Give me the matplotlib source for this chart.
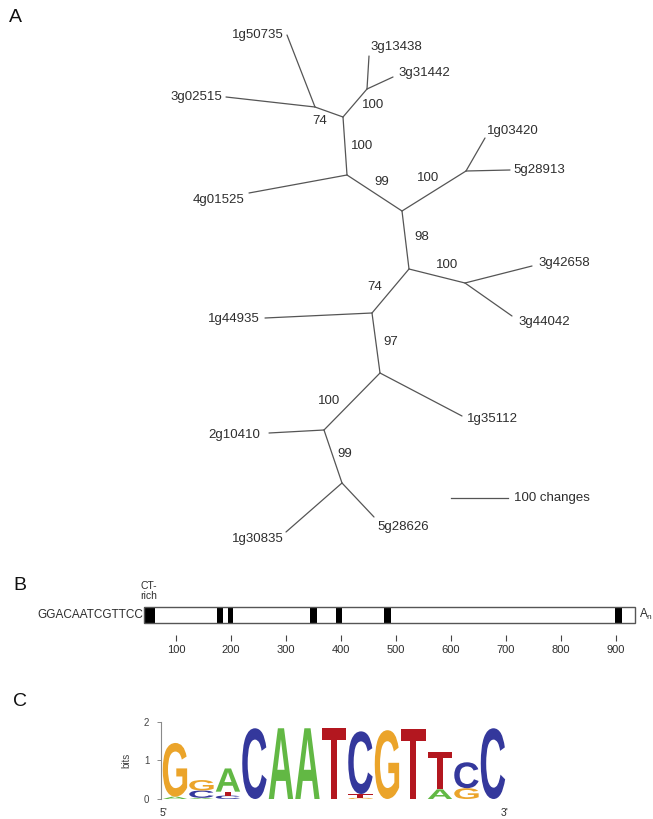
import matplotlib
matplotlib.use("Agg")
import matplotlib.pyplot as plt
from matplotlib.patches import Rectangle, PathPatch
from matplotlib.textpath import TextPath
from matplotlib.font_manager import FontProperties
from matplotlib.transforms import Affine2D

plt.rcParams["font.family"] = ["Liberation Sans", "DejaVu Sans"]

W, H = 653, 819
LINE = "#555555"
TXT = "#2e2e2e"

# ---------------- A: unrooted tree (layout coords, picture units) ----------------
node_names = ["a", "b", "c", "d", "e", "f", "g", "h", "i", "j", "k", "l"]
node_x = [315, 343, 367, 347, 402, 466, 409, 465, 372, 380, 324, 342]
node_y = [107, 117, 89, 175, 211, 171, 269, 283, 313, 373, 430, 483]
internal_edges = [("a", "b"), ("b", "c"), ("b", "d"), ("d", "e"), ("e", "f"),
                  ("e", "g"), ("g", "h"), ("g", "i"), ("i", "j"), ("j", "k"),
                  ("k", "l")]

leaf_names = ["1g50735", "3g02515", "3g13438", "3g31442", "4g01525", "1g03420",
              "5g28913", "3g42658", "3g44042", "1g44935", "1g35112", "2g10410",
              "1g30835", "5g28626"]
leaf_parent = ["a", "a", "c", "c", "d", "f", "f", "h", "h", "i", "j", "k", "l", "l"]
leaf_x = [287, 226, 369, 393, 249, 485, 510, 532, 512, 265, 462, 269, 286, 374]
leaf_y = [35, 97, 56, 77, 193, 138, 170, 266, 316, 318, 416, 433, 532, 517]
label_x = [284, 222, 370, 398, 244, 487, 513, 538, 518, 260, 467, 260, 284, 377]
label_y = [35, 97, 47, 73, 200, 131, 170, 263, 322, 319, 419, 435, 539, 527]
label_ha = ["right", "right", "left", "left", "right", "left", "left", "left",
            "left", "right", "left", "right", "right", "left"]

boot_vals = [74, 100, 100, 99, 100, 98, 100, 74, 97, 100, 99]
boot_x = [320, 373, 362, 382, 428, 422, 447, 375, 391, 329, 345]
boot_y = [121, 105, 146, 182, 178, 237, 265, 287, 342, 401, 454]

scale_x = [451, 508]
scale_y = 498
scale_text = "100 changes"

# ---------------- B: transcript diagram (sequence positions) ----------------
gene_start, gene_end = 42, 935
block_start = [42, 174, 195, 344, 390, 478, 899]
block_end = [62, 186, 204, 356, 402, 491, 910]
b_ticks = [100, 200, 300, 400, 500, 600, 700, 800, 900]
motif_seq = "GGACAATCGTTCC"

# ---------------- C: sequence logo (bits per base, per position) ----------------
bits_A = [0.06, 0.03, 0.60, 0.00, 1.83, 1.83, 0.00, 0.00, 0.00, 0.00, 0.25, 0.00, 0.00]
bits_C = [0.00, 0.19, 0.09, 1.83, 0.00, 0.00, 0.00, 1.62, 0.00, 0.00, 0.00, 0.67, 1.83]
bits_G = [1.39, 0.27, 0.00, 0.00, 0.00, 0.00, 0.00, 0.03, 1.78, 0.00, 0.00, 0.28, 0.00]
bits_T = [0.00, 0.00, 0.10, 0.00, 0.00, 0.00, 1.83, 0.10, 0.00, 1.80, 0.97, 0.00, 0.00]
base_colors = {"A": "#62b844", "C": "#34389c", "G": "#eba42a", "T": "#b3171f"}

fig = plt.figure(figsize=(W / 100, H / 100), dpi=100)
fig.patch.set_facecolor("white")

# page axes in picture units (tree + panel letters)
ax = fig.add_axes([0, 0, 1, 1])
ax.set_xlim(0, W)
ax.set_ylim(H, 0)
ax.axis("off")

pos = {n: (x, y) for n, x, y in zip(node_names, node_x, node_y)}
for p, c in internal_edges:
    ax.plot([pos[p][0], pos[c][0]], [pos[p][1], pos[c][1]], color=LINE, lw=0.9,
            solid_capstyle="round")
for name, par, x, y, tx, ty, ha in zip(leaf_names, leaf_parent, leaf_x, leaf_y,
                                       label_x, label_y, label_ha):
    ax.plot([pos[par][0], x], [pos[par][1], y], color=LINE, lw=0.9,
            solid_capstyle="round")
    ax.text(tx, ty, name, ha=ha, va="center", fontsize=9.5, color=TXT)
for v, x, y in zip(boot_vals, boot_x, boot_y):
    ax.text(x, y, str(v), ha="center", va="center", fontsize=9.5, color=TXT)
ax.plot(scale_x, [scale_y, scale_y], color=LINE, lw=0.9)
ax.text(scale_x[1] + 6, scale_y, scale_text, ha="left", va="center",
        fontsize=9.5, color=TXT)

for lab, x, y in [("A", 15, 18), ("B", 20, 585), ("C", 20, 702)]:
    ax.text(x, y, lab, ha="center", va="center", fontsize=14, color="#111111")

# ---------------- panel B ----------------
px0, px_per = 121, 0.55
b_top, b_axis = 606.7, 635
axb = fig.add_axes([px0 / W, 1 - b_axis / H, (940 * px_per) / W, (b_axis - b_top) / H])
axb.set_xlim(0, 940)
axb.set_ylim(-(b_axis - 622.7), 16)
axb.patch.set_alpha(0)
for s in axb.spines.values():
    s.set_visible(False)
axb.set_yticks([])
axb.set_xticks(b_ticks)
axb.tick_params(axis="x", length=4, width=0.8, color="#444444", pad=3,
                labelsize=8, labelcolor=TXT)
axb.add_patch(Rectangle((gene_start, 0), gene_end - gene_start, 16,
                        facecolor="white", edgecolor="none", clip_on=False))
for s, e in zip(block_start, block_end):
    axb.add_patch(Rectangle((s, 0), e - s, 16, facecolor="black",
                            edgecolor="none", clip_on=False))
axb.add_patch(Rectangle((gene_start, 0), gene_end - gene_start, 16,
                        facecolor="none", edgecolor="#555555", lw=1.0, clip_on=False))
axb.text(gene_start - 2, 8, motif_seq, ha="right", va="center", fontsize=8.5,
         color=TXT, clip_on=False)
axb.text(50, 31.5, "CT-\nrich", ha="center", va="center", fontsize=7.5,
         color=TXT, linespacing=1.0, clip_on=False)
axb.text(gene_end + 6, 8, r"A$_\mathregular{n}$", ha="left", va="center",
         fontsize=8.5, color=TXT, clip_on=False)

# ---------------- panel C ----------------
c_left, c_right, c_bot, c_top = 160.5, 507.0, 799.0, 721.7
axc = fig.add_axes([c_left / W, 1 - c_bot / H, (c_right - c_left) / W, (c_bot - c_top) / H])
axc.set_xlim(-0.045, 13.03)
axc.set_ylim(0, 2)
axc.patch.set_alpha(0)
for k in ["top", "right", "bottom"]:
    axc.spines[k].set_visible(False)
axc.spines["left"].set_color("#8a8a8a")
axc.spines["left"].set_linewidth(0.8)
axc.set_xticks([])
axc.set_yticks([0, 1, 2])
axc.tick_params(axis="y", length=3, width=0.7, color="#8a8a8a", pad=5,
                labelsize=7, labelcolor="#444444")
axc.set_ylabel("bits", fontsize=7, color="#444444")
axc.yaxis.set_label_coords(-0.085, 0.5)

LOGO_FONT = FontProperties(family="Liberation Sans", weight="bold")


def draw_letter(a, ch, x, y, w, h, color):
    tp = TextPath((0, 0), ch, size=1, prop=LOGO_FONT)
    bb = tp.get_extents()
    tr = (Affine2D().translate(-bb.x0, -bb.y0)
          .scale(w / bb.width, h / bb.height).translate(x, y))
    a.add_patch(PathPatch(tr.transform_path(tp), facecolor=color,
                          edgecolor="none", clip_on=False))


for i in range(len(bits_A)):
    col = {"A": bits_A[i], "C": bits_C[i], "G": bits_G[i], "T": bits_T[i]}
    y0 = 0.0
    for base, h in sorted(col.items(), key=lambda kv: kv[1]):
        if h <= 0:
            continue
        draw_letter(axc, base, i + 0.04, y0, 0.92, h, base_colors[base])
        y0 += h

axc.text(0.05, -0.36, "5'", ha="center", va="center", fontsize=7.5, color=TXT,
         clip_on=False)
axc.text(12.94, -0.36, "3'", ha="center", va="center", fontsize=7.5, color=TXT,
         clip_on=False)

fig.savefig("out.png", dpi=100, facecolor="white")
